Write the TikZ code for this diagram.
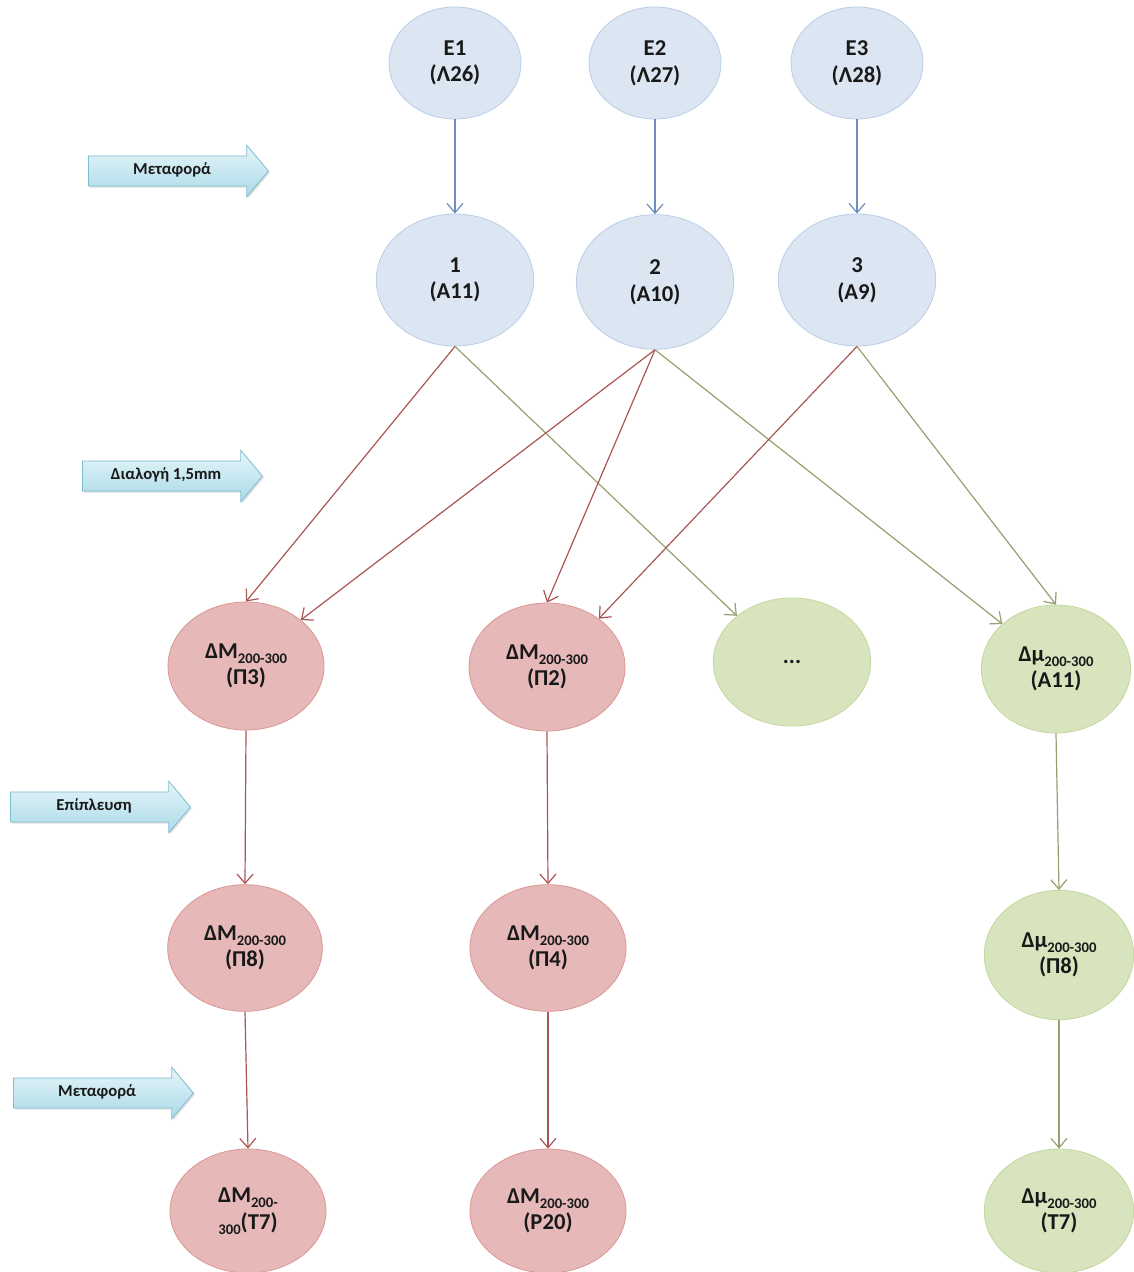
\documentclass[tikz,border=0pt]{standalone}
\usepackage{fontspec}
\setmainfont{Carlito}
\usetikzlibrary{shapes.geometric,shapes.arrows,arrows.meta,shadows}
\newcommand{\rng}[1]{\raisebox{-0.45ex}{\fontsize{11}{12}\selectfont #1}}

\begin{document}
\begin{tikzpicture}[x=0.75pt,y=0.75pt,yscale=-1,xscale=1,
	stage/.style={ellipse, line width=0.6pt, align=center, inner sep=0pt, text={rgb, 255:red, 25; green, 25; blue, 25 }, font=\fontsize{17}{20}\selectfont\bfseries},
	bluestage/.style={stage, draw={rgb, 255:red, 185; green, 205; blue, 229 }, fill={rgb, 255:red, 220; green, 230; blue, 242 }},
	redstage/.style={stage, draw={rgb, 255:red, 217; green, 150; blue, 148 }, fill={rgb, 255:red, 230; green, 185; blue, 184 }},
	greenstage/.style={stage, draw={rgb, 255:red, 195; green, 214; blue, 155 }, fill={rgb, 255:red, 215; green, 228; blue, 189 }},
	phase/.style={single arrow, anchor=tail, single arrow head extend=8pt, single arrow tip angle=100, minimum height=135pt, inner xsep=4pt, inner ysep=6pt, text height=7.5pt, text depth=2.5pt, line width=0.6pt, draw={rgb, 255:red, 125; green, 190; blue, 210 }, top color={rgb, 255:red, 230; green, 245; blue, 249 }, bottom color={rgb, 255:red, 170; green, 218; blue, 232 }, drop shadow={shadow xshift=1.2pt, shadow yshift=-1.2pt, opacity=0.25}, text={rgb, 255:red, 25; green, 25; blue, 25 }, font=\fontsize{12.5}{13}\selectfont\bfseries},
	flow/.style={line width=0.9pt, -{Straight Barb[length=7pt,width=12pt]}},
	blueflow/.style={flow, draw={rgb, 255:red, 110; green, 140; blue, 190 }},
	redflow/.style={flow, draw={rgb, 255:red, 170; green, 85; blue, 85 }},
	greenflow/.style={flow, draw={rgb, 255:red, 150; green, 160; blue, 110 }}
	]
	\useasboundingbox (0,0) rectangle (1134,1272);
	% process steps on the left
	\node [phase] (move1) at (88,171) {Μεταφορά};
	\node [phase] (sort) at (82,476) {Διαλογή 1,5mm};
	\node [phase] (float) at (10,807) {Επίπλευση};
	\node [phase] (move2) at (13,1093) {Μεταφορά};
	% sources
	\node [bluestage, minimum width=99pt, minimum height=84pt] (E1) at (455,63) {E1\\(Λ26)};
	\node [bluestage, minimum width=99pt, minimum height=84pt] (E2) at (655,63) {E2\\(Λ27)};
	\node [bluestage, minimum width=99pt, minimum height=84pt] (E3) at (857,63) {E3\\(Λ28)};
	\node [bluestage, minimum width=118pt, minimum height=99pt] (A11) at (455,280) {1\\(A11)};
	\node [bluestage, minimum width=118pt, minimum height=101pt] (A10) at (655,282) {2\\(A10)};
	\node [bluestage, minimum width=118pt, minimum height=99pt] (A9) at (857,280) {3\\(A9)};
	% fractions
	\node [redstage, minimum width=117pt, minimum height=96pt] (P3) at (246,666) {ΔM\rng{200-300}\\(Π3)};
	\node [redstage, minimum width=117pt, minimum height=96pt] (P2) at (547,667) {ΔM\rng{200-300}\\(Π2)};
	\node [greenstage, minimum width=118pt, minimum height=96pt] (dots) at (792,662) {...};
	\node [greenstage, minimum width=112pt, minimum height=96pt] (mA11) at (1056,669) {Δμ\rng{200-300}\\(A11)};
	\node [redstage, minimum width=116pt, minimum height=95pt] (P8) at (245,948) {ΔM\rng{200-300}\\(Π8)};
	\node [redstage, minimum width=117pt, minimum height=95pt] (P4) at (548,948) {ΔM\rng{200-300}\\(Π4)};
	\node [greenstage, minimum width=112pt, minimum height=97pt] (mP8) at (1059,955) {Δμ\rng{200-300}\\(Π8)};
	\node [redstage, minimum width=117pt, minimum height=93pt] (T7) at (248,1211) {ΔM\rng{200-}\\\rng{300}(T7)};
	\node [redstage, minimum width=117pt, minimum height=93pt] (P20) at (548,1211) {ΔM\rng{200-300}\\(P20)};
	\node [greenstage, minimum width=112pt, minimum height=93pt] (mT7) at (1059,1211) {Δμ\rng{200-300}\\(T7)};
	% connectors
	\draw [blueflow] (E1.south) -- (A11.north);
	\draw [blueflow] (E2.south) -- (A10.north);
	\draw [blueflow] (E3.south) -- (A9.north);
	\draw [redflow] (A11.south) -- (P3.north);
	\draw [greenflow] (A11.south) -- (dots.140);
	\draw [redflow] (A10.south) -- (P3.40);
	\draw [redflow] (A10.south) -- (P2.north);
	\draw [greenflow] (A10.south) -- (mA11.140);
	\draw [redflow] (A9.south) -- (P2.43);
	\draw [greenflow] (A9.south) -- (mA11.north);
	\draw [redflow] (P3.south) -- (P8.north);
	\draw [redflow] (P2.south) -- (P4.north);
	\draw [greenflow] (mA11.south) -- (mP8.north);
	\draw [redflow] (P8.south) -- (T7.north);
	\draw [redflow] (P4.south) -- (P20.north);
	\draw [greenflow] (mP8.south) -- (mT7.north);
\end{tikzpicture}
\end{document}
